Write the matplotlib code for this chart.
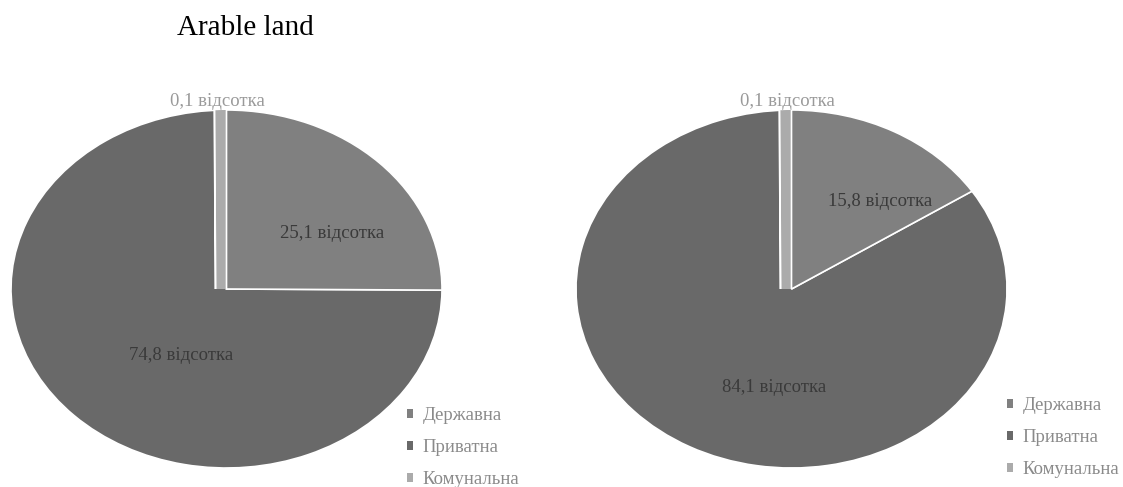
import matplotlib.pyplot as plt
from matplotlib.patches import Patch, Wedge
import matplotlib.patheffects as pe

# land ownership shares, per cent
categories = ['Державна', 'Приватна', 'Комунальна']
shares_left = [25.1, 74.8, 0.1]
shares_right = [15.8, 84.1, 0.1]
colors = ['#808080', '#696969', '#ababab']

plt.rcParams['font.family'] = ['Liberation Serif', 'DejaVu Serif']

W, H = 1123, 487
fig = plt.figure(figsize=(W / 100, H / 100), dpi=100)
fig.text(177 / W, 1 - 35 / H, 'Arable land', fontsize=21, va='baseline', ha='left')


def fmt(v):
    return f'{v:.1f}'.replace('.', ',') + ' відсотка'


def draw_pie(rect, shares, label_pos, legend_xy):
    ax = fig.add_axes(rect)
    wedges, _ = ax.pie(shares, colors=colors, startangle=90, counterclock=False,
                       wedgeprops=dict(edgecolor='white', linewidth=1.2))
    # the tiny communal slice gets a thick stroke so it stays visible;
    # the state slice sits on top so the strip only shows to its left
    small = wedges[2]
    small.set_edgecolor(colors[2])
    small.set_linewidth(14)
    small.set_joinstyle('bevel')
    small.set_zorder(3)
    small.set_path_effects([pe.Stroke(linewidth=17, foreground='white', joinstyle='bevel'),
                            pe.Normal()])
    small.set_clip_on(True)
    small.set_clip_path(Wedge((0, 0), 1, 90, 180, transform=ax.transData))
    wedges[0].set_zorder(4)
    ax.set_aspect('auto')
    ax.set_xlim(-1.0, 1.0)
    ax.set_ylim(-1.0, 1.0)
    for i, (v, (x, y)) in enumerate(zip(shares, label_pos)):
        outside = i == 2
        ax.text(x, y, fmt(v), fontsize=13.5, ha='center', va='center',
                color='#9a9a9a' if outside else '#3a3a3a', zorder=5,
                bbox=dict(facecolor='white', edgecolor='none', pad=0.5) if outside else None)
    handles = [Patch(facecolor=c, edgecolor='none') for c in colors]
    fig.legend(handles, categories, loc='upper left', bbox_to_anchor=legend_xy,
               frameon=False, fontsize=13.5, labelcolor='#8a8a8a',
               handlelength=0.32, handleheight=0.32, handletextpad=0.5,
               labelspacing=0.8, borderpad=0, borderaxespad=0)


draw_pie([11 / W, 19 / H, 431 / W, 358 / H], shares_left,
         [(0.49, 0.31), (-0.21, -0.37), (-0.04, 1.05)],
         (407 / W, 1 - 407 / H))
draw_pie([576 / W, 19 / H, 431 / W, 358 / H], shares_right,
         [(0.41, 0.49), (-0.08, -0.55), (-0.02, 1.05)],
         (1007 / W, 1 - 397 / H))

plt.savefig('out.png', dpi=100)
